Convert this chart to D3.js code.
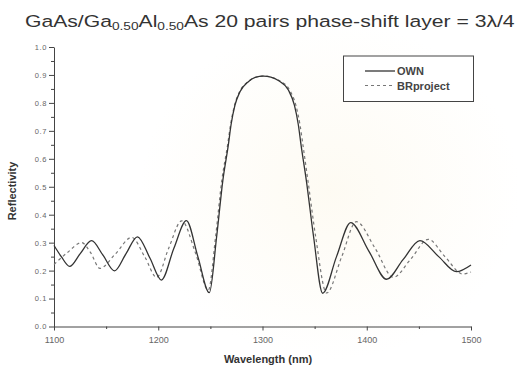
<!DOCTYPE html>
<html>
<head>
<meta charset="utf-8">
<script src="https://cdn.jsdelivr.net/npm/d3@7/dist/d3.min.js"></script>
<style>
  html, body { margin: 0; padding: 0; background: #fff; }
  svg { display: block; font-family: "Liberation Sans", Arial, sans-serif; }
</style>
</head>
<body>
<svg id="chart" width="517" height="368"></svg>
<script>
// Reflectivity spectrum: wavelength (nm) and reflectivity for each model
const ownWavelength = [1100, 1107, 1115, 1125, 1136, 1147, 1158, 1169, 1180, 1192, 1203, 1215, 1227, 1238, 1249,
  1256, 1262, 1267.2, 1269.8, 1273.6, 1278.4, 1286.4, 1293, 1301, 1308, 1315.2, 1324.8, 1330.6, 1334.4, 1337, 1342, 1349, 1357.7,
  1371, 1384.6, 1402, 1419, 1435, 1451, 1469, 1486, 1500];
const ownReflectivity = [0.29, 0.25, 0.215, 0.26, 0.307, 0.255, 0.199, 0.26, 0.321, 0.245, 0.166, 0.28, 0.379, 0.25, 0.121,
  0.321, 0.524, 0.649, 0.721, 0.792, 0.840, 0.876, 0.891, 0.896, 0.892, 0.880, 0.846, 0.792, 0.721, 0.649, 0.524, 0.321, 0.119,
  0.25, 0.372, 0.27, 0.169, 0.24, 0.307, 0.25, 0.196, 0.22];

const brWavelength = [1100, 1113, 1126.5, 1135, 1144, 1159, 1174.5, 1187, 1198.5, 1210, 1222.5, 1236, 1248,
  1255, 1261, 1266.5, 1269.3, 1273.2, 1278, 1286, 1293, 1301, 1308.5, 1316, 1326, 1332, 1336, 1338.8, 1343.5, 1351, 1361.5,
  1376, 1390, 1408, 1425.5, 1442, 1459, 1475, 1492, 1500];
const brReflectivity = [0.222, 0.265, 0.30, 0.265, 0.208, 0.26, 0.319, 0.25, 0.176, 0.28, 0.378, 0.26, 0.13,
  0.321, 0.524, 0.649, 0.721, 0.792, 0.840, 0.876, 0.891, 0.897, 0.892, 0.880, 0.846, 0.792, 0.721, 0.649, 0.524, 0.321, 0.12,
  0.25, 0.375, 0.28, 0.176, 0.24, 0.312, 0.25, 0.188, 0.195];

const xMajorTicks = [1100, 1200, 1300, 1400, 1500];
const xMinorTicks = [1150, 1250, 1350, 1450];
const yMajorTicks = [0, 0.1, 0.2, 0.3, 0.4, 0.5, 0.6, 0.7, 0.8, 0.9, 1.0];
const yMinorTicks = [0.05, 0.15, 0.25, 0.35, 0.45, 0.55, 0.65, 0.75, 0.85, 0.95];
const seriesNames = ["OWN", "BRproject"];

const svg = d3.select("#chart");
const x = d3.scaleLinear().domain([1100, 1500]).range([54, 471]);
const y = d3.scaleLinear().domain([0, 1]).range([326.5, 47]);

// faint background emblem tint
const defs = svg.append("defs");
const grad = defs.append("radialGradient").attr("id", "tint");
grad.append("stop").attr("offset", "0%").attr("stop-color", "#fbf3dc").attr("stop-opacity", 0.35);
grad.append("stop").attr("offset", "100%").attr("stop-color", "#fbf3dc").attr("stop-opacity", 0);
svg.append("ellipse").attr("cx", 330).attr("cy", 190).attr("rx", 190).attr("ry", 170)
  .attr("fill", "url(#tint)");

// title with subscripts, stretched to span the top line
const title = svg.append("text").attr("x", 0).attr("y", 0)
  .attr("font-size", 17).attr("fill", "#333");
title.append("tspan").text("GaAs/Ga");
title.append("tspan").attr("font-size", 11).attr("dy", 2.5).text("0.50");
title.append("tspan").attr("dy", -2.5).text("Al");
title.append("tspan").attr("font-size", 11).attr("dy", 2.5).text("0.50");
title.append("tspan").attr("dy", -2.5).text("As 20 pairs phase-shift layer = 3\u03bb/4");
const titleWidth = title.node().getComputedTextLength();
title.attr("transform", `translate(25,27) scale(${490 / titleWidth},1)`);

// axes
const axisColor = "#444";
const xAxis = svg.append("g").attr("transform", `translate(0,${y(0)})`)
  .call(d3.axisBottom(x).tickValues(xMajorTicks).tickSize(4).tickSizeOuter(0)
    .tickFormat(d3.format("d")));
const xMinor = svg.append("g").attr("transform", `translate(0,${y(0)})`)
  .call(d3.axisBottom(x).tickValues(xMinorTicks).tickSize(2.5).tickFormat(""));
xMinor.select(".domain").remove();

const yAxis = svg.append("g").attr("transform", `translate(${x(1100)},0)`)
  .call(d3.axisLeft(y).tickValues(yMajorTicks).tickSize(5).tickSizeOuter(0)
    .tickFormat(d3.format(".1f")));
const yMinor = svg.append("g").attr("transform", `translate(${x(1100)},0)`)
  .call(d3.axisLeft(y).tickValues(yMinorTicks).tickSize(3).tickFormat(""));
yMinor.select(".domain").remove();

svg.selectAll(".domain, .tick line").attr("stroke", axisColor).attr("stroke-width", 1);
xAxis.selectAll(".tick text").attr("font-size", 9).attr("fill", "#666")
  .attr("font-family", "Liberation Sans, Arial, sans-serif").attr("dy", "1.1em");
yAxis.selectAll(".tick text").attr("font-size", 7.5).attr("fill", "#666")
  .attr("font-family", "Liberation Sans, Arial, sans-serif").attr("x", -7)
  .attr("letter-spacing", 0.6);

// axis titles
svg.append("text").attr("x", 268).attr("y", 363).attr("text-anchor", "middle")
  .attr("font-size", 11).attr("font-weight", "bold").attr("fill", "#333")
  .text("Wavelength (nm)");
svg.append("text").attr("transform", "translate(16,191) rotate(-90)")
  .attr("text-anchor", "middle").attr("font-size", 11).attr("font-weight", "bold")
  .attr("fill", "#333").text("Reflectivity");

// curves
const line = d3.line().x(d => x(d[0])).y(d => y(d[1])).curve(d3.curveMonotoneX);
const ownData = d3.zip(ownWavelength, ownReflectivity);
const brData = d3.zip(brWavelength, brReflectivity);

svg.append("path").datum(brData).attr("d", line).attr("fill", "none")
  .attr("stroke", "#777").attr("stroke-width", 1.2).attr("stroke-dasharray", "3,3");
svg.append("path").datum(ownData).attr("d", line).attr("fill", "none")
  .attr("stroke", "#333").attr("stroke-width", 1.3);

// legend
const legend = svg.append("g");
legend.append("rect").attr("x", 343.5).attr("y", 56).attr("width", 130).attr("height", 45.5)
  .attr("fill", "#fff").attr("stroke", "#444").attr("stroke-width", 1);
const styles = [{ stroke: "#333", dash: null, w: 1.3 }, { stroke: "#777", dash: "3,3", w: 1.2 }];
seriesNames.forEach((name, i) => {
  const ly = 71 + i * 14.5;
  legend.append("line").attr("x1", 365).attr("x2", 395).attr("y1", ly).attr("y2", ly)
    .attr("stroke", styles[i].stroke).attr("stroke-width", styles[i].w)
    .attr("stroke-dasharray", styles[i].dash);
  legend.append("text").attr("x", 397).attr("y", ly + 4).attr("font-size", 11)
    .attr("font-weight", "bold").attr("fill", "#444").text(name);
});
</script>
</body>
</html>
